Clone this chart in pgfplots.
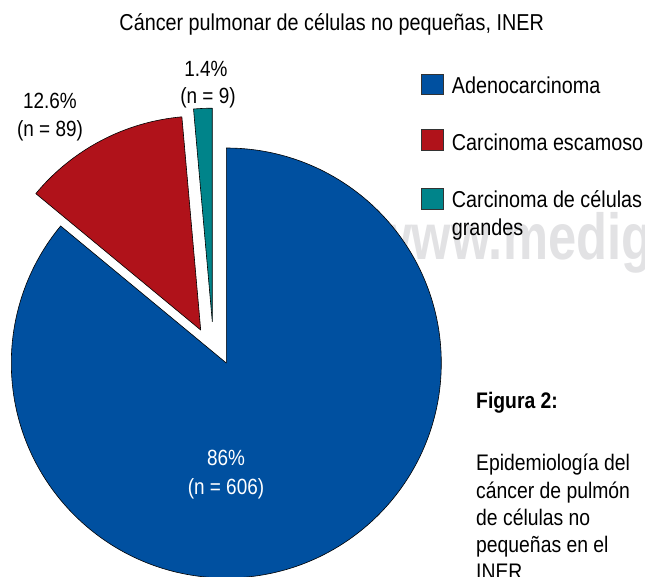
\documentclass[border=0pt]{standalone}
\usepackage{fontspec}
\setmainfont{Liberation Sans}[FakeStretch=0.86]
\newfontfamily\wmfont{Liberation Sans}[FakeStretch=0.78]
\usepackage{pgfplots}
\pgfplotsset{compat=1.18}
\definecolor{adeno}{RGB}{0,80,160}
\definecolor{escam}{RGB}{176,18,26}
\definecolor{grand}{RGB}{0,132,138}
\definecolor{wm}{RGB}{226,226,228}
\begin{document}
\begin{tikzpicture}
% data: share (%) of each histological type
\pgfmathsetmacro\nA{86}
\pgfmathsetmacro\nB{12.6}
\pgfmathsetmacro\nC{1.4}
\pgfmathsetmacro\tot{\nA+\nB+\nC}
\pgfmathsetmacro\eA{90-\nA/\tot*360}
\pgfmathsetmacro\eB{\eA-\nB/\tot*360}
\pgfmathsetmacro\eC{\eB-\nC/\tot*360}
\begin{axis}[scale only axis, width=645pt, height=577pt,
  xmin=0, xmax=645, ymin=0, ymax=577, y dir=reverse,
  hide axis, clip=false]
% watermark
\node[anchor=base east, text=wm, font={\wmfont\bfseries\fontsize{65}{70}\selectfont}, inner sep=0pt] at (axis cs:503,260) {www.};
\node[anchor=base west, text=wm, font={\wmfont\bfseries\fontsize{65}{70}\selectfont}, inner sep=0pt] at (axis cs:503,260) {medigraphic.org};
% slices
\filldraw[fill=adeno, draw=black, line width=0.6pt, line join=round]
  (axis cs:226.3,363) -- ++(90:215pt) arc[start angle=90, end angle=\eA, radius=215pt] -- cycle;
\filldraw[fill=escam, draw=black, line width=0.6pt, line join=round]
  (axis cs:200.7,330) -- ++(\eA:214pt) arc[start angle=\eA, end angle=\eB, radius=214pt] -- cycle;
\filldraw[fill=grand, draw=black, line width=0.6pt, line join=round]
  (axis cs:212.3,321.7) -- ++(\eB:213.5pt) arc[start angle=\eB, end angle=\eC, radius=213.5pt] -- cycle;
% title
\node[anchor=base, font=\fontsize{23}{27}\selectfont, inner sep=0pt] at (axis cs:331.7,31) {Cáncer pulmonar de células no pequeñas, INER};
% slice labels
\node[anchor=base, font=\fontsize{22}{26}\selectfont, inner sep=0pt] at (axis cs:50,109) {12.6\%};
\node[anchor=base, font=\fontsize{22}{26}\selectfont, inner sep=0pt] at (axis cs:50,137) {(n = 89)};
\node[anchor=base, font=\fontsize{22}{26}\selectfont, inner sep=0pt] at (axis cs:206,77) {1.4\%};
\node[anchor=base, font=\fontsize{22}{26}\selectfont, inner sep=0pt] at (axis cs:208,104) {(n = 9)};
\node[anchor=base, font=\fontsize{22}{26}\selectfont, text=white, inner sep=0pt] at (axis cs:226,465) {86\%};
\node[anchor=base, font=\fontsize{22}{26}\selectfont, text=white, inner sep=0pt] at (axis cs:226,494) {(n = 606)};
% legend
\filldraw[fill=adeno, draw=black!80, line width=0.6pt] (axis cs:421.7,74) rectangle (axis cs:443.3,94.3);
\filldraw[fill=escam, draw=black!80, line width=0.6pt] (axis cs:421.7,129.5) rectangle (axis cs:443.3,150.5);
\filldraw[fill=grand, draw=black!80, line width=0.6pt] (axis cs:421.7,188) rectangle (axis cs:443.3,209);
\node[anchor=base west, font=\fontsize{23}{27}\selectfont, inner sep=0pt] at (axis cs:451.7,93.3) {Adenocarcinoma};
\node[anchor=base west, font=\fontsize{23}{27}\selectfont, inner sep=0pt] at (axis cs:451.7,150.7) {Carcinoma escamoso};
\node[anchor=base west, font=\fontsize{23}{27}\selectfont, inner sep=0pt] at (axis cs:451.7,208) {Carcinoma de células};
\node[anchor=base west, font=\fontsize{23}{27}\selectfont, inner sep=0pt] at (axis cs:451.7,236) {grandes};
% caption
\node[anchor=base west, font=\bfseries\fontsize{22.5}{27}\selectfont, inner sep=0pt] at (axis cs:476,408) {Figura 2:};
\node[anchor=base west, font=\fontsize{22.5}{27}\selectfont, inner sep=0pt] at (axis cs:476,470) {Epidemiología del};
\node[anchor=base west, font=\fontsize{22.5}{27}\selectfont, inner sep=0pt] at (axis cs:476,498) {cáncer de pulmón};
\node[anchor=base west, font=\fontsize{22.5}{27}\selectfont, inner sep=0pt] at (axis cs:476,525) {de células no};
\node[anchor=base west, font=\fontsize{22.5}{27}\selectfont, inner sep=0pt] at (axis cs:476,552) {pequeñas en el};
\node[anchor=base west, font=\fontsize{22.5}{27}\selectfont, inner sep=0pt] at (axis cs:476,579) {INER};
\end{axis}
\pgfresetboundingbox
\useasboundingbox (0,0) rectangle (645pt,577pt);
\end{tikzpicture}
\end{document}
